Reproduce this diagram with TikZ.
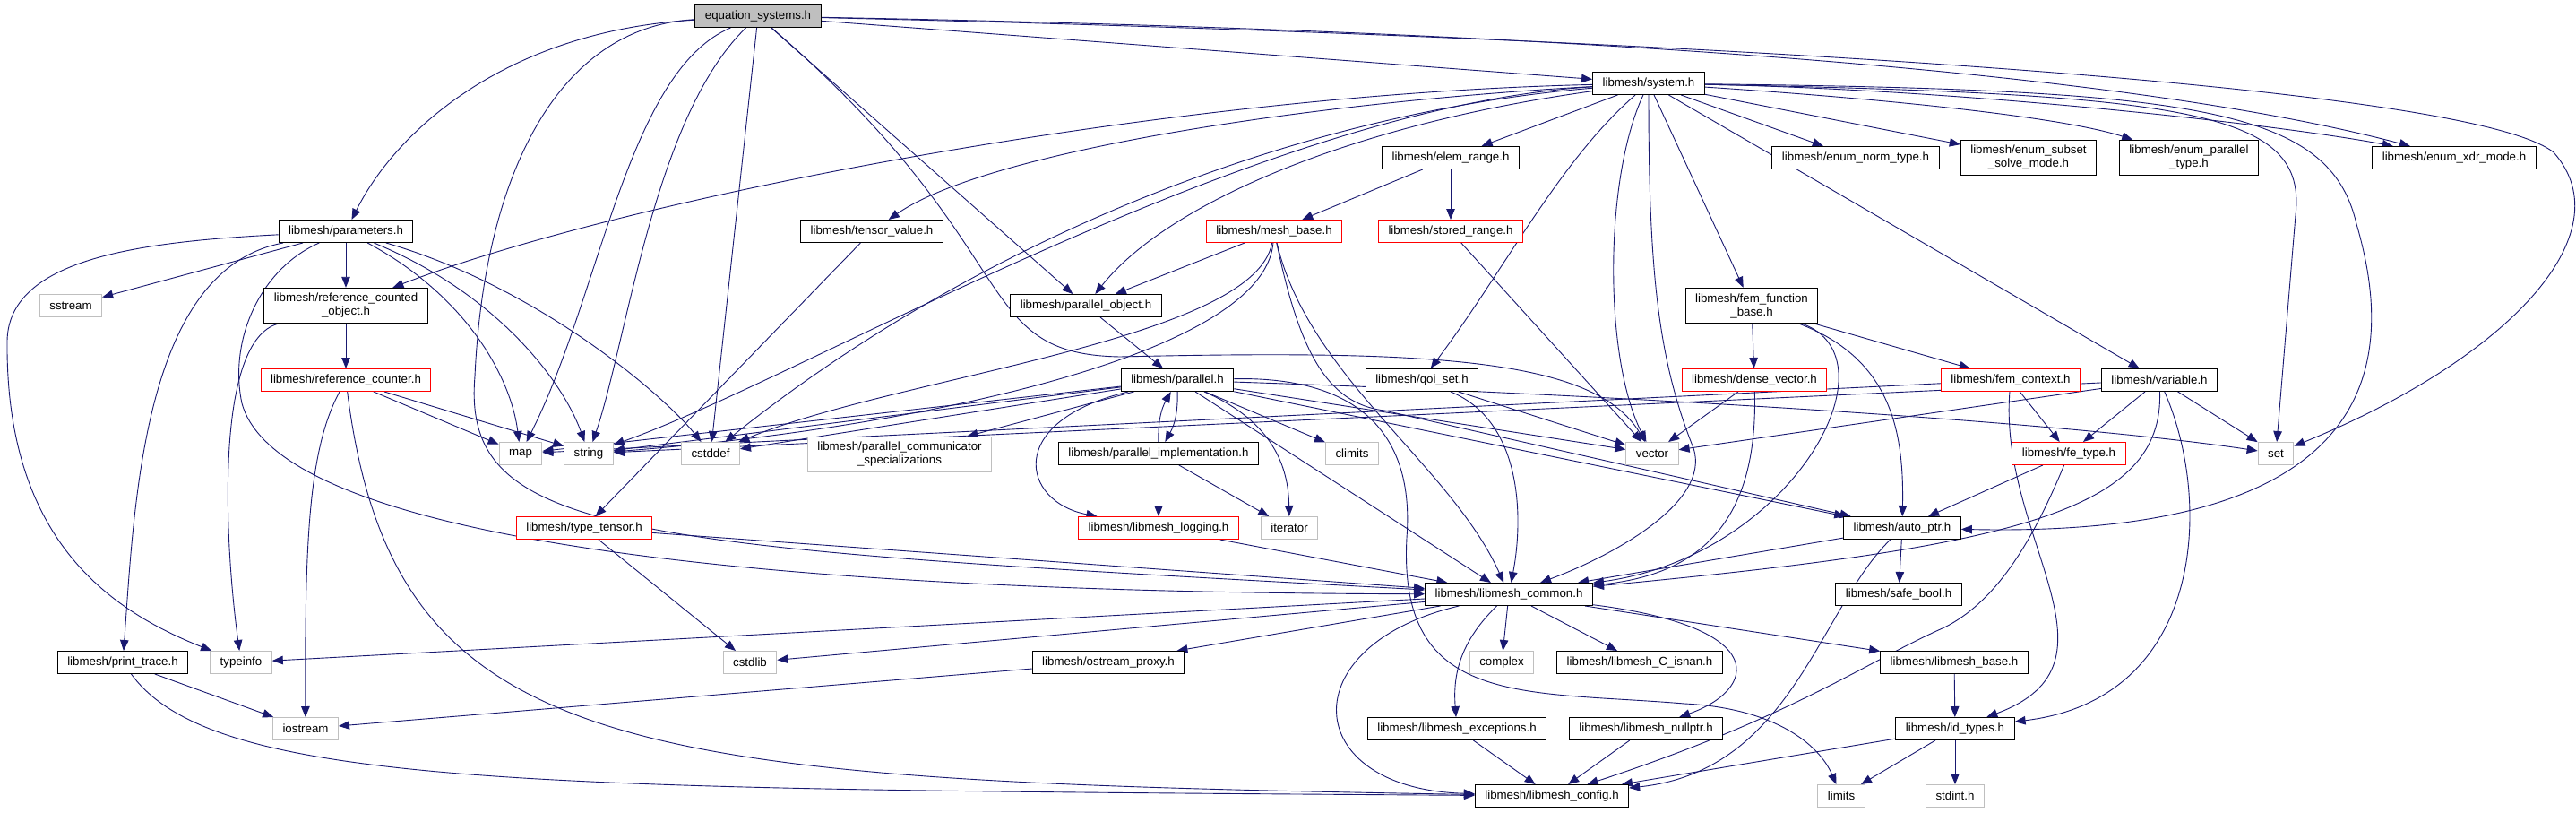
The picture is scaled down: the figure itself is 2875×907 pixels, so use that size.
\documentclass[tikz,border=0pt]{standalone}
\usepackage{fontspec}
\setsansfont{Liberation Sans}
\usepackage{tikz}
\usetikzlibrary{arrows.meta, backgrounds}

\begin{document}
\begin{tikzpicture}[x=1pt, y=-1pt]
  \definecolor{edgecol}{RGB}{25,25,112}
  \definecolor{extcol}{RGB}{191,191,191}
  \colorlet{cutcol}{red}
  \tikzset{
    hdr/.style={rectangle, draw=#1, fill=white, line width=1pt,
      minimum height=25pt, inner xsep=11pt, inner ysep=6pt,
      align=center, font=\sffamily\fontsize{13.3}{15}\selectfont},
    hdr/.default=black,
    dep/.style={-{Triangle[length=12pt, width=9.5pt]}, line width=0.9pt, color=edgecol}
  }
  \useasboundingbox (0,0) rectangle (2875,907);
  \node[hdr, fill=extcol] (es) at (846,18) {equation\_systems.h};
  \node[hdr] (sys) at (1840,93) {libmesh/system.h};
  \node[hdr] (er) at (1619,176) {libmesh/elem\_range.h};
  \node[hdr] (ent) at (2071,176) {libmesh/enum\_norm\_type.h};
  \node[hdr] (ess) at (2264,176) {libmesh/enum\_subset\\\_solve\_mode.h};
  \node[hdr] (ept) at (2443,176) {libmesh/enum\_parallel\\\_type.h};
  \node[hdr] (exm) at (2739,176) {libmesh/enum\_xdr\_mode.h};
  \node[hdr] (par) at (386,258) {libmesh/parameters.h};
  \node[hdr] (tv) at (973,258) {libmesh/tensor\_value.h};
  \node[hdr=cutcol] (mb) at (1422,258) {libmesh/mesh\_base.h};
  \node[hdr=cutcol] (sr) at (1619,258) {libmesh/stored\_range.h};
  \node[hdr=extcol] (sst) at (79,341) {sstream};
  \node[hdr] (rco) at (386,341) {libmesh/reference\_counted\\\_object.h};
  \node[hdr] (po) at (1212,341) {libmesh/parallel\_object.h};
  \node[hdr] (ffb) at (1955,341) {libmesh/fem\_function\\\_base.h};
  \node[hdr=cutcol] (rc) at (386,424) {libmesh/reference\_counter.h};
  \node[hdr] (pl) at (1314,424) {libmesh/parallel.h};
  \node[hdr] (qs) at (1587,424) {libmesh/qoi\_set.h};
  \node[hdr=cutcol] (dv) at (1958,424) {libmesh/dense\_vector.h};
  \node[hdr=cutcol] (fc) at (2244,424) {libmesh/fem\_context.h};
  \node[hdr] (var) at (2410,424) {libmesh/variable.h};
  \node[hdr=extcol] (map) at (581,506) {map};
  \node[hdr=extcol] (str) at (657,506) {string};
  \node[hdr=extcol] (cdf) at (793,506) {cstddef};
  \node[hdr=extcol] (pcs) at (1004,507) {libmesh/parallel\_communicator\\\_specializations};
  \node[hdr] (pimp) at (1293,506) {libmesh/parallel\_implementation.h};
  \node[hdr=extcol] (clim) at (1509,506) {climits};
  \node[hdr=extcol] (vec) at (1844,506) {vector};
  \node[hdr=cutcol] (fet) at (2309,506) {libmesh/fe\_type.h};
  \node[hdr=extcol] (set) at (2540,506) {set};
  \node[hdr=cutcol] (tt) at (652,589) {libmesh/type\_tensor.h};
  \node[hdr=cutcol] (log) at (1293,589) {libmesh/libmesh\_logging.h};
  \node[hdr=extcol] (iter) at (1439,589) {iterator};
  \node[hdr] (ap) at (2123,589) {libmesh/auto\_ptr.h};
  \node[hdr] (com) at (1684,663) {libmesh/libmesh\_common.h};
  \node[hdr] (sb) at (2119,663) {libmesh/safe\_bool.h};
  \node[hdr] (pt) at (137,739) {libmesh/print\_trace.h};
  \node[hdr=extcol] (tinf) at (269,739) {typeinfo};
  \node[hdr=extcol] (cstdl) at (837,739) {cstdlib};
  \node[hdr] (osp) at (1237,739) {libmesh/ostream\_proxy.h};
  \node[hdr=extcol] (cplx) at (1676,739) {complex};
  \node[hdr] (isnan) at (1830,739) {libmesh/libmesh\_C\_isnan.h};
  \node[hdr] (lbase) at (2181,739) {libmesh/libmesh\_base.h};
  \node[hdr=extcol] (ios) at (341,813) {iostream};
  \node[hdr] (exc) at (1626,813) {libmesh/libmesh\_exceptions.h};
  \node[hdr] (nptr) at (1837,813) {libmesh/libmesh\_nullptr.h};
  \node[hdr] (idt) at (2182,813) {libmesh/id\_types.h};
  \node[hdr] (cfg) at (1732,888) {libmesh/libmesh\_config.h};
  \node[hdr=extcol] (lim) at (2055,888) {limits};
  \node[hdr=extcol] (sint) at (2182,888) {stdint.h};
  \begin{scope}[on background layer]
    \fill[white] (0,0) rectangle (2875,907);
    \draw[dep] (es) .. controls (560,35) and (440,150) .. (par);
    \draw[dep] (es) .. controls (620,30) and (540,200) .. (530,420) .. controls (515,600) and (700,610) .. (com);
    \draw[dep] (es) .. controls (700,80) and (670,330) .. (map);
    \draw[dep] (es) .. controls (730,130) and (700,380) .. (str);
    \draw[dep] (es) -- (cdf);
    \draw[dep] (es) -- (po);
    \draw[dep] (es) .. controls (1150,280) and (1080,395) .. (1250,398) .. controls (1600,390) and (1780,400) .. (vec);
    \draw[dep] (es) -- (sys);
    \draw[dep] (es) .. controls (1500,30) and (2300,60) .. (exm);
    \draw[dep] (es) .. controls (1800,40) and (2750,90) .. (2850,170) .. controls (2930,260) and (2800,400) .. (set);
    \draw[dep] (sys) -- (er);
    \draw[dep] (sys) -- (ent);
    \draw[dep] (sys) -- (ess);
    \draw[dep] (sys) .. controls (2100,110) and (2300,130) .. (ept);
    \draw[dep] (sys) .. controls (2200,100) and (2550,140) .. (exm);
    \draw[dep] (sys) .. controls (2450,105) and (2575,125) .. (2562,240) -- (set);
    \draw[dep] (sys) .. controls (2450,100) and (2600,120) .. (2630,250) .. controls (2680,420) and (2640,600) .. (ap);
    \draw[dep] (sys) -- (ffb);
    \draw[dep] (sys) -- (var);
    \draw[dep] (sys) .. controls (1740,180) and (1680,300) .. (qs);
    \draw[dep] (sys) .. controls (1790,200) and (1790,400) .. (vec);
    \draw[dep] (sys) .. controls (1840,300) and (1850,400) .. (1890,500) .. controls (1910,560) and (1800,620) .. (com);
    \draw[dep] (sys) .. controls (1500,140) and (1300,230) .. (po);
    \draw[dep] (sys) .. controls (1400,130) and (1050,300) .. (cdf);
    \draw[dep] (sys) .. controls (1400,120) and (900,420) .. (str);
    \draw[dep] (sys) .. controls (1450,115) and (1100,170) .. (tv);
    \draw[dep] (sys) .. controls (1300,105) and (700,220) .. (rco);
    \draw[dep] (par) -- (sst);
    \draw[dep] (par) .. controls (150,270) and (10,290) .. (8,380) .. controls (6,600) and (120,680) .. (tinf);
    \draw[dep] (par) .. controls (160,300) and (150,560) .. (pt);
    \draw[dep] (par) .. controls (290,300) and (255,380) .. (270,450) .. controls (300,560) and (600,660) .. (com);
    \draw[dep] (par) -- (rco);
    \draw[dep] (par) .. controls (520,330) and (570,420) .. (map);
    \draw[dep] (par) .. controls (560,330) and (630,430) .. (str);
    \draw[dep] (par) .. controls (600,320) and (740,440) .. (cdf);
    \draw[dep] (rco) -- (rc);
    \draw[dep] (rco) .. controls (240,380) and (250,600) .. (tinf);
    \draw[dep] (rc) .. controls (345,500) and (340,600) .. (ios);
    \draw[dep] (rc) .. controls (440,850) and (700,870) .. (cfg);
    \draw[dep] (rc) -- (map);
    \draw[dep] (rc) -- (str);
    \draw[dep] (pt) -- (ios);
    \draw[dep] (pt) .. controls (240,880) and (600,880) .. (cfg);
    \draw[dep] (tv) -- (tt);
    \draw[dep] (tt) -- (cstdl);
    \draw[dep] (tt) -- (com);
    \draw[dep] (er) -- (mb);
    \draw[dep] (er) -- (sr);
    \draw[dep] (mb) -- (po);
    \draw[dep] (mb) .. controls (1400,380) and (1000,420) .. (cdf);
    \draw[dep] (mb) .. controls (1410,400) and (1000,480) .. (str);
    \draw[dep] (mb) .. controls (1460,420) and (1620,520) .. (com);
    \draw[dep] (mb) .. controls (1450,390) and (1480,450) .. (1545,458) -- (ap);
    \draw[dep] (sr) -- (vec);
    \draw[dep] (po) -- (pl);
    \draw[dep] (pl) to[bend left=15] (pimp);
    \draw[dep] (pimp) to[bend left=15] (pl);
    \draw[dep] (pl) .. controls (1120,470) and (1140,560) .. (log);
    \draw[dep] (pl) -- (pcs);
    \draw[dep] (pl) -- (cdf);
    \draw[dep] (pl) -- (map);
    \draw[dep] (pl) -- (str);
    \draw[dep] (pl) -- (clim);
    \draw[dep] (pl) .. controls (1420,470) and (1438,520) .. (iter);
    \draw[dep] (pl) .. controls (1500,420) and (1580,470) .. (1570,600) .. controls (1560,790) and (1700,770) .. (1880,785) .. controls (1980,790) and (2030,830) .. (lim);
    \draw[dep] (pl) .. controls (1800,440) and (2300,470) .. (set);
    \draw[dep] (pl) -- (vec);
    \draw[dep] (pl) -- (ap);
    \draw[dep] (pl) -- (com);
    \draw[dep] (pimp) -- (log);
    \draw[dep] (pimp) -- (iter);
    \draw[dep] (log) -- (com);
    \draw[dep] (qs) -- (vec);
    \draw[dep] (qs) .. controls (1700,470) and (1700,580) .. (com);
    \draw[dep] (ffb) -- (dv);
    \draw[dep] (ffb) .. controls (2120,400) and (2000,620) .. (com);
    \draw[dep] (ffb) .. controls (2110,400) and (2125,480) .. (ap);
    \draw[dep] (ffb) -- (fc);
    \draw[dep] (dv) -- (vec);
    \draw[dep] (dv) .. controls (1962,580) and (1900,640) .. (com);
    \draw[dep] (fc) -- (map);
    \draw[dep] (fc) -- (fet);
    \draw[dep] (fc) .. controls (2230,600) and (2380,740) .. (idt);
    \draw[dep] (var) -- (vec);
    \draw[dep] (var) -- (str);
    \draw[dep] (var) -- (fet);
    \draw[dep] (var) .. controls (2415,570) and (2250,610) .. (com);
    \draw[dep] (var) .. controls (2470,560) and (2460,780) .. (idt);
    \draw[dep] (var) -- (set);
    \draw[dep] (fet) -- (ap);
    \draw[dep] (fet) .. controls (2270,600) and (2230,670) .. (2170,700) .. controls (2080,740) and (2000,800) .. (cfg);
    \draw[dep] (ap) -- (com);
    \draw[dep] (ap) -- (sb);
    \draw[dep] (ap) .. controls (2030,680) and (2000,860) .. (cfg);
    \draw[dep] (com) -- (tinf);
    \draw[dep] (com) -- (cstdl);
    \draw[dep] (com) -- (osp);
    \draw[dep] (com) .. controls (1440,720) and (1450,880) .. (cfg);
    \draw[dep] (com) .. controls (1625,720) and (1622,760) .. (exc);
    \draw[dep] (com) -- (cplx);
    \draw[dep] (com) -- (isnan);
    \draw[dep] (com) .. controls (1980,700) and (1960,770) .. (nptr);
    \draw[dep] (com) -- (lbase);
    \draw[dep] (osp) -- (ios);
    \draw[dep] (exc) -- (cfg);
    \draw[dep] (nptr) -- (cfg);
    \draw[dep] (lbase) -- (idt);
    \draw[dep] (idt) -- (lim);
    \draw[dep] (idt) -- (sint);
    \draw[dep] (idt) -- (cfg);
  \end{scope}
\end{tikzpicture}
\end{document}
